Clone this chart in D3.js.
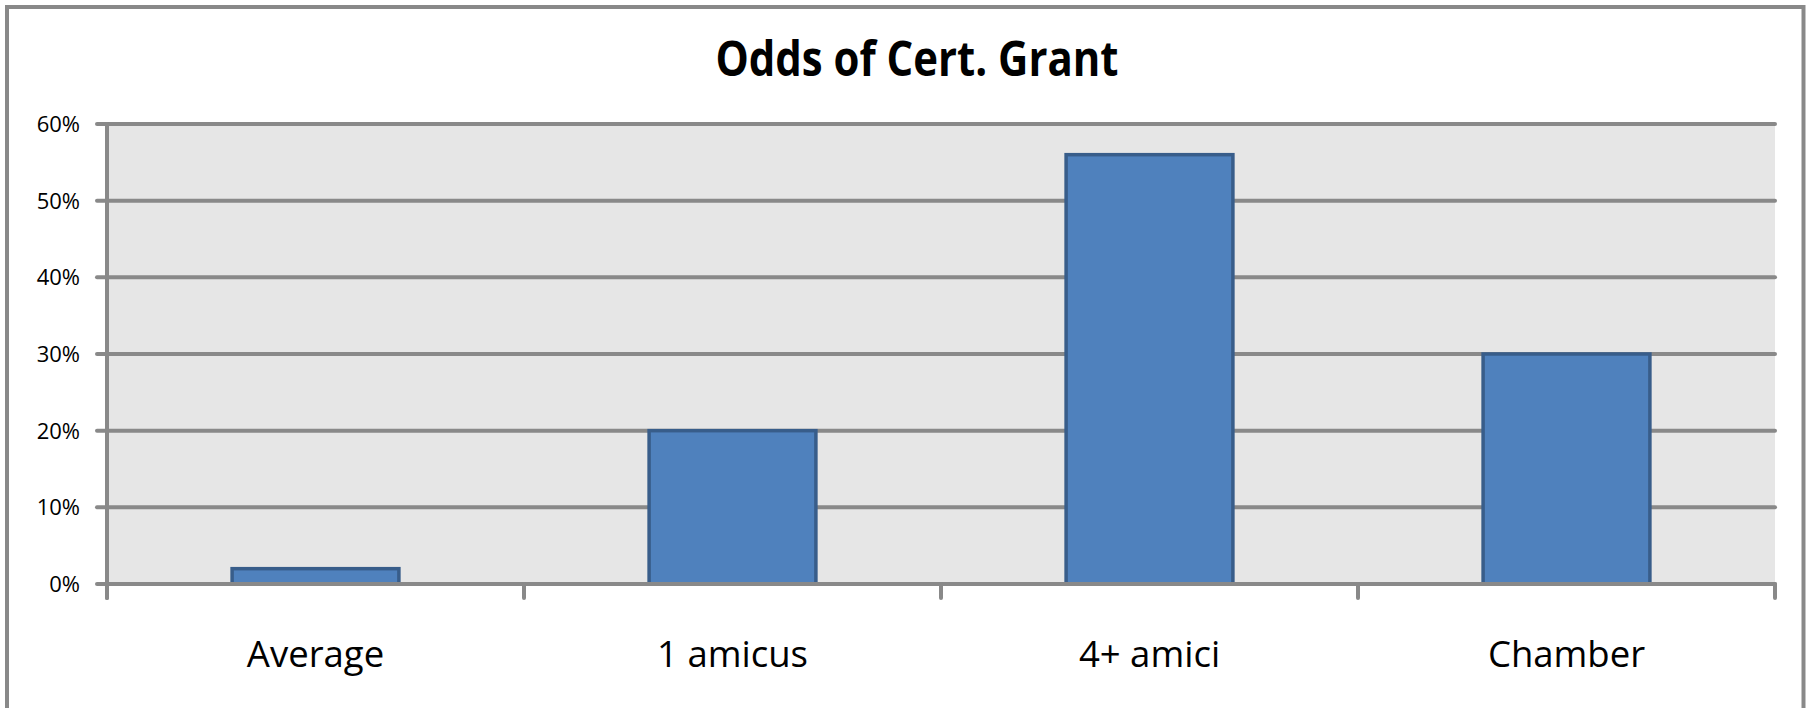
<!DOCTYPE html>
<html lang="en">
  <head>
    <meta charset="utf-8" />
    <title>Odds of Cert. Grant</title>
    <script src="https://d3js.org/d3.v7.min.js"></script>
    <style>
      body { margin: 0; background: #fff; }
      text { font-family: "Open Sans", "DejaVu Sans", sans-serif; fill: #000; }
    </style>
  </head>
  <body>
    <div id="chart"></div>
  <script>
    // data
    var categories = ["Average", "1 amicus", "4+ amici", "Chamber"];
    var oddsValues = [0.02, 0.20, 0.56, 0.30];
    var yTicks = [0, 0.1, 0.2, 0.3, 0.4, 0.5, 0.6];
    var chartTitle = "Odds of Cert. Grant";

    var width = 1808,
        height = 708;
    var plot = {left: 107, right: 1775, top: 124, bottom: 584};
    var gridColor = "#898989";

    var svg = d3.select("#chart")
                .append("svg")
                .attr("width", width)
                .attr("height", height);

    // outer chart border (bottom edge runs off the picture)
    svg.append("rect")
       .attr("x", 7).attr("y", 7)
       .attr("width", 1796.5).attr("height", 730)
       .attr("fill", "none")
       .attr("stroke", gridColor)
       .attr("stroke-width", 4);

    var y = d3.scaleLinear()
              .domain([0, 0.6])
              .range([plot.bottom, plot.top]);

    // bars sit centred in each category slot
    var x = d3.scaleBand()
              .domain(categories)
              .range([plot.left, plot.right])
              .paddingInner(0.6)
              .paddingOuter(0.3);

    var slot = d3.scaleBand()
                 .domain(categories)
                 .range([plot.left, plot.right])
                 .padding(0);

    // plot background
    svg.append("rect")
       .attr("x", plot.left).attr("y", plot.top)
       .attr("width", plot.right - plot.left)
       .attr("height", plot.bottom - plot.top)
       .attr("fill", "#e6e6e6");

    // horizontal gridlines + left ticks
    svg.append("g")
       .selectAll("line")
       .data(yTicks)
       .enter().append("line")
       .attr("x1", plot.left - 10)
       .attr("x2", plot.right)
       .attr("y1", function(d) { return y(d); })
       .attr("y2", function(d) { return y(d); })
       .attr("stroke", gridColor)
       .attr("stroke-width", 4)
       .attr("stroke-linecap", "round");

    svg.append("g")
       .selectAll("text")
       .data(yTicks)
       .enter().append("text")
       .attr("x", 80)
       .attr("y", function(d) { return y(d); })
       .attr("dy", "0.36em")
       .attr("text-anchor", "end")
       .style("font-size", "22px")
       .text(d3.format(".0%"));

    // bars
    svg.append("g")
       .selectAll("rect")
       .data(oddsValues)
       .enter().append("rect")
       .attr("x", function(d, i) { return x(categories[i]); })
       .attr("y", function(d) { return y(d); })
       .attr("width", x.bandwidth())
       .attr("height", function(d) { return y(0) - y(d); })
       .attr("fill", "#4f81bd")
       .attr("stroke", "#385d8a")
       .attr("stroke-width", 3.5);

    // category axis: baseline, left axis line and boundary ticks
    var boundaries = categories.map(function(c) { return slot(c); }).concat([plot.right]);

    svg.append("line")
       .attr("x1", plot.left).attr("x2", plot.right)
       .attr("y1", y(0)).attr("y2", y(0))
       .attr("stroke", gridColor).attr("stroke-width", 4);

    svg.append("line")
       .attr("x1", plot.left).attr("x2", plot.left)
       .attr("y1", plot.top).attr("y2", plot.bottom + 14)
       .attr("stroke", gridColor).attr("stroke-width", 4)
       .attr("stroke-linecap", "round");

    svg.append("g")
       .selectAll("line")
       .data(boundaries)
       .enter().append("line")
       .attr("x1", function(d) { return d; })
       .attr("x2", function(d) { return d; })
       .attr("y1", plot.bottom)
       .attr("y2", plot.bottom + 14)
       .attr("stroke", gridColor)
       .attr("stroke-width", 4)
       .attr("stroke-linecap", "round");

    svg.append("g")
       .selectAll("text")
       .data(categories)
       .enter().append("text")
       .attr("x", function(d) { return slot(d) + slot.bandwidth() / 2; })
       .attr("y", 667)
       .attr("text-anchor", "middle")
       .style("font-size", "36.5px")
       .text(function(d) { return d; });

    // title
    svg.append("text")
       .attr("x", 917)
       .attr("y", 76)
       .attr("text-anchor", "middle")
       .attr("textLength", 403)
       .attr("lengthAdjust", "spacingAndGlyphs")
       .style("font-size", "48px")
       .style("font-weight", "bold")
       .text(chartTitle);
  </script>
  </body>
</html>
